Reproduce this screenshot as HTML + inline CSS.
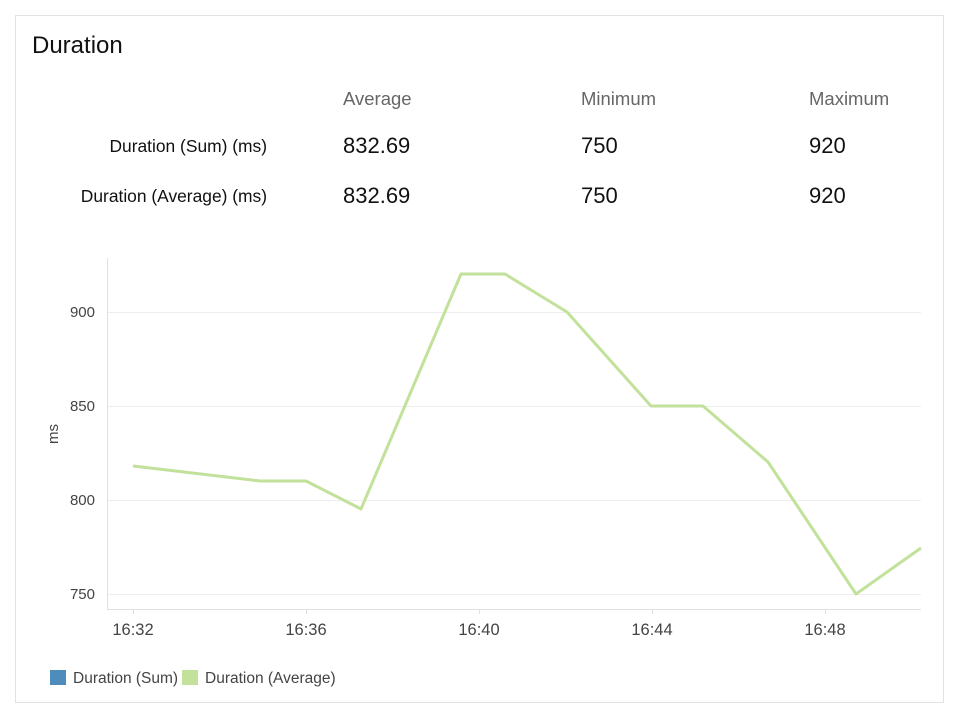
<!DOCTYPE html>
<html><head><style>
body{margin:0;background:#fff;width:960px;height:720px;overflow:hidden;font-family:"Liberation Sans",sans-serif;}
.panel{position:absolute;left:15px;top:15px;width:927px;height:686px;border:1px solid #e2e2e2;}
.t{position:absolute;white-space:nowrap;}
</style></head><body>
<div class="panel"></div>
<div class="t" style="left:32px;top:32px;font-size:24px;color:#111;">Duration</div>
<div class="t" style="left:343px;top:88px;font-size:18.5px;color:#666;">Average</div>
<div class="t" style="left:581px;top:88px;font-size:18.5px;color:#666;">Minimum</div>
<div class="t" style="left:809px;top:88px;font-size:18.5px;color:#666;">Maximum</div>
<div class="t" style="right:693px;top:136px;font-size:17.4px;color:#111;">Duration (Sum) (ms)</div>
<div class="t" style="right:693px;top:186px;font-size:17.4px;color:#111;">Duration (Average) (ms)</div>
<div class="t" style="left:343px;top:133px;font-size:22px;color:#111;">832.69</div>
<div class="t" style="left:581px;top:133px;font-size:22px;color:#111;">750</div>
<div class="t" style="left:809px;top:133px;font-size:22px;color:#111;">920</div>
<div class="t" style="left:343px;top:183px;font-size:22px;color:#111;">832.69</div>
<div class="t" style="left:581px;top:183px;font-size:22px;color:#111;">750</div>
<div class="t" style="left:809px;top:183px;font-size:22px;color:#111;">920</div>
<svg width="960" height="720" style="position:absolute;left:0;top:0" font-family="Liberation Sans, sans-serif">
<g stroke="#eeeeee" stroke-width="1">
<line x1="107" y1="312.5" x2="921" y2="312.5"/>
<line x1="107" y1="406.5" x2="921" y2="406.5"/>
<line x1="107" y1="500.5" x2="921" y2="500.5"/>
<line x1="107" y1="594.5" x2="921" y2="594.5"/>
</g>
<g stroke="#e0e0e0"><line x1="107.5" y1="258" x2="107.5" y2="609"/><line x1="107" y1="609.5" x2="921" y2="609.5"/>
<line x1="133.5" y1="609" x2="133.5" y2="614"/><line x1="306.5" y1="609" x2="306.5" y2="614"/><line x1="479.5" y1="609" x2="479.5" y2="614"/><line x1="652.5" y1="609" x2="652.5" y2="614"/><line x1="825.5" y1="609" x2="825.5" y2="614"/></g>
<g font-size="15" fill="#444" text-anchor="end">
<text x="95" y="317">900</text><text x="95" y="411">850</text><text x="95" y="505">800</text><text x="95" y="599">750</text></g>
<g font-size="16.5" fill="#444" text-anchor="middle">
<text x="133" y="635">16:32</text><text x="306" y="635">16:36</text><text x="479" y="635">16:40</text><text x="652" y="635">16:44</text><text x="825" y="635">16:48</text></g>
<text transform="translate(58,434) rotate(-90)" font-size="15" fill="#444" text-anchor="middle">ms</text>
<polyline fill="none" stroke="#c2e19a" stroke-width="3" stroke-linejoin="round" points="133,466 260,481 306,481 361,509 461,274 505,274 567,312 651,406 703,406 768,462 856,594 921,548"/>
<rect x="50" y="670" width="16" height="15" fill="#4e8cbb"/>
<text x="73" y="683" font-size="15.5" fill="#444">Duration (Sum)</text>
<rect x="182" y="670" width="16" height="15" fill="#c2e19a"/>
<text x="205" y="683" font-size="15.5" fill="#444">Duration (Average)</text>
</svg>
</body></html>
